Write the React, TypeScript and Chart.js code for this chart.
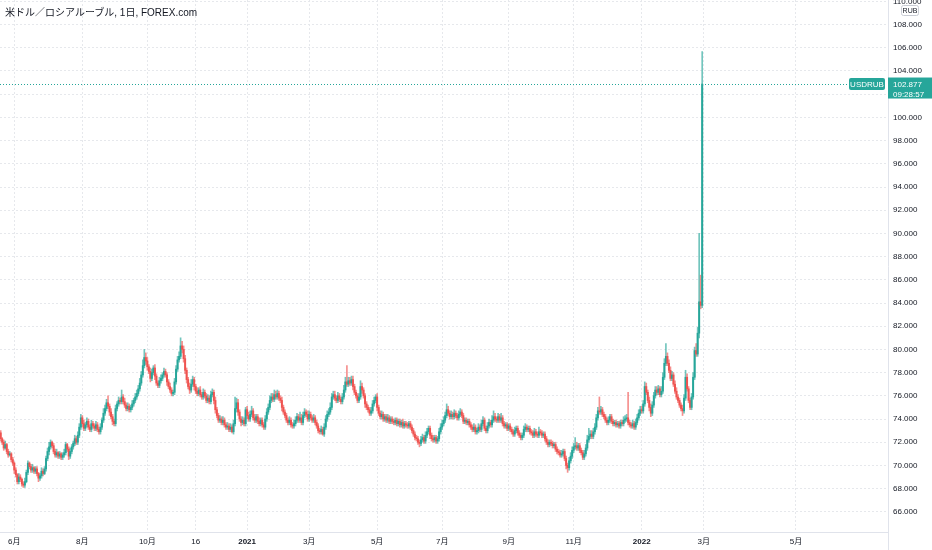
import React, { useEffect, useRef } from "react";
import { Chart, registerables } from "chart.js";

Chart.register(...registerables);

// ---------- data (daily USD/RUB candles, FOREX.com, from 2020-05-19 to 2022-02-28) ----------
const TITLE = "米ドル／ロシアルーブル, 1日, FOREX.com";
const SYMBOL = "USDRUB";
const CURRENCY = "RUB";
const COUNTDOWN = "09:28:57";

const FIRST_OPEN = 72.8;

// closes, one per trading day (open of a bar = previous close)
const closes = [
  /*   0 */ 72.3, 72.0, 71.5, 71.8, 71.2, 70.9, 71.0, 70.5, 70.2, 69.6,
  /*  10 */ 69.2, 68.6, 69.0, 68.8, 68.4, 68.3, 68.6, 69.4, 70.2, 69.9,
  /*  20 */ 69.6, 69.8, 69.5, 69.7, 69.3, 68.9, 69.1, 69.5, 69.3, 69.7,
  /*  30 */ 70.6, 71.2, 71.6, 72.0, 71.7, 71.2, 70.9, 71.1, 70.8, 71.0,
  /*  40 */ 70.7, 70.9, 71.1, 71.8, 71.4, 70.8, 71.2, 71.6, 71.9, 72.3,
  /*  50 */ 72.0, 72.6, 73.3, 74.1, 73.6, 73.2, 73.5, 73.8, 73.3, 73.1,
  /*  60 */ 73.6, 73.4, 73.2, 73.5, 73.1, 72.9, 73.3, 73.9, 74.5, 74.9,
  /*  70 */ 75.4, 75.1, 74.6, 74.2, 73.8, 73.6, 74.9, 75.3, 75.6, 75.5,
  /*  80 */ 75.9, 75.5, 75.2, 74.9, 75.1, 74.8, 75.0, 75.3, 75.6, 75.9,
  /*  90 */ 76.2, 76.6, 77.1, 77.8, 78.6, 79.3, 79.0, 78.5, 78.1, 77.5,
  /* 100 */ 78.0, 78.4, 77.7, 77.1, 76.9, 77.3, 77.5, 77.8, 78.1, 77.8,
  /* 110 */ 77.2, 76.8, 76.5, 76.2, 76.3, 77.2, 78.3, 79.1, 79.4, 80.3,
  /* 120 */ 80.0, 79.2, 78.2, 77.4, 76.8, 76.5, 77.0, 77.4, 76.8, 76.4,
  /* 130 */ 76.2, 76.5, 76.1, 75.9, 76.3, 76.0, 75.6, 75.8, 75.5, 76.1,
  /* 140 */ 76.3, 75.6, 74.8, 74.3, 73.9, 74.0, 73.7, 73.9, 73.5, 73.3,
  /* 150 */ 73.4, 73.1, 73.3, 72.9, 73.6, 74.9, 75.4, 74.6, 74.0, 73.7,
  /* 160 */ 73.9, 73.6, 74.8, 74.3, 74.0, 74.4, 74.7, 74.1, 73.9, 74.2,
  /* 170 */ 73.8, 73.6, 73.9, 73.5, 73.3, 74.0, 74.6, 75.0, 75.6, 75.9,
  /* 180 */ 75.7, 76.1, 75.9, 76.2, 75.8, 75.6, 75.0, 74.6, 74.3, 73.9,
  /* 190 */ 73.7, 73.9, 73.5, 73.4, 73.6, 73.9, 74.2, 73.9, 74.1, 73.7,
  /* 200 */ 74.3, 74.6, 74.4, 74.0, 74.4, 74.1, 73.9, 74.1, 73.7, 73.4,
  /* 210 */ 73.0, 72.9, 73.1, 72.7, 73.3, 74.0, 74.4, 74.6, 75.0, 75.9,
  /* 220 */ 76.1, 75.8, 75.6, 76.0, 75.7, 75.5, 75.9, 76.5, 77.2, 77.0,
  /* 230 */ 77.3, 77.1, 77.4, 76.8, 76.3, 76.0, 75.6, 75.9, 76.8, 76.5,
  /* 240 */ 76.0, 75.3, 75.0, 74.8, 74.5, 74.7, 75.3, 75.6, 75.9, 75.0,
  /* 250 */ 74.5, 74.2, 74.4, 74.0, 74.2, 73.9, 74.1, 73.8, 74.0, 73.8,
  /* 260 */ 73.7, 73.9, 73.6, 73.8, 73.5, 73.7, 73.4, 73.6, 73.5, 73.4,
  /* 270 */ 73.6, 73.3, 73.0, 72.7, 72.4, 72.3, 72.0, 71.9, 72.2, 72.4,
  /* 280 */ 72.1, 72.6, 72.9, 73.2, 72.6, 72.3, 72.2, 72.4, 72.1, 72.3,
  /* 290 */ 72.9, 73.3, 73.6, 73.9, 74.3, 74.8, 74.5, 74.2, 74.4, 74.2,
  /* 300 */ 74.5, 74.3, 74.1, 74.4, 74.6, 74.3, 73.8, 73.9, 73.7, 73.8,
  /* 310 */ 73.5, 73.3, 73.1, 73.3, 72.9, 73.0, 73.3, 73.1, 73.6, 73.9,
  /* 320 */ 73.2, 73.0, 73.4, 73.7, 73.5, 73.9, 74.2, 74.0, 73.9, 74.2,
  /* 330 */ 73.9, 74.1, 73.6, 73.4, 73.5, 73.2, 73.4, 73.1, 72.9, 72.7,
  /* 340 */ 73.0, 73.2, 72.8, 72.6, 72.4, 72.6, 73.1, 73.3, 73.1, 73.2,
  /* 350 */ 72.9, 72.8, 72.6, 72.9, 72.7, 72.6, 72.9, 72.8, 72.6, 72.7,
  /* 360 */ 72.3, 72.0, 71.8, 72.0, 71.9, 71.7, 71.8, 71.4, 71.2, 71.1,
  /* 370 */ 70.9, 71.0, 71.2, 70.6, 70.0, 69.8, 70.4, 70.8, 71.3, 71.6,
  /* 380 */ 71.7, 71.5, 71.7, 71.3, 71.1, 70.7, 71.0, 71.5, 72.2, 72.5,
  /* 390 */ 72.7, 72.5, 72.9, 73.3, 74.1, 74.7, 74.6, 74.8, 74.4, 74.2,
  /* 400 */ 73.9, 73.7, 73.9, 74.2, 73.8, 73.6, 73.7, 73.5, 73.6, 73.4,
  /* 410 */ 73.7, 73.6, 73.9, 74.0, 74.1, 73.7, 73.5, 73.4, 73.6, 73.3,
  /* 420 */ 73.7, 74.1, 74.5, 74.8, 74.7, 75.3, 76.8, 76.3, 75.6, 75.0,
  /* 430 */ 74.5, 75.2, 76.0, 76.5, 76.3, 76.6, 76.1, 76.4, 77.6, 78.8,
  /* 440 */ 79.4, 78.8, 78.2, 77.5, 77.8, 77.0, 76.4, 75.9, 75.6, 75.2,
  /* 450 */ 74.9, 74.7, 75.8, 77.6, 76.6, 75.6, 75.0, 75.9, 77.6, 79.9,
  /* 460 */ 79.6, 81.4, 84.1, 83.8, 102.877,
];

// upper wick above the body, in tenths of a rouble
const wickUp = [
  2,1,2,3,1,2,2,1,2,1, 2,1,3,2,1,2,3,2,2,1,
  2,3,1,2,2,1,2,3,2,2, 2,3,4,2,1,2,2,3,1,2,
  1,2,3,2,1,2,3,2,2,3, 2,3,3,3,2,3,2,3,2,2,
  3,2,2,3,2,2,3,2,4,3, 3,6,2,3,2,2,3,2,3,2,
  6,2,3,2,3,2,2,3,2,3, 3,3,4,3,5,7,4,3,2,3,
  3,2,3,2,2,3,3,2,3,2, 2,2,3,2,2,3,3,3,4,7,
  4,3,3,2,2,3,4,3,2,2, 3,2,3,2,3,2,2,3,2,3,
  3,2,3,2,2,3,2,3,2,2, 3,2,3,2,3,10,4,3,2,2,
  3,2,2,3,3,3,4,2,3,2, 2,3,2,2,2,3,3,3,4,3,
  3,4,3,3,2,2,3,2,2,2, 2,3,2,2,3,3,3,2,5,3,
  3,3,2,3,3,2,2,3,2,2, 2,2,3,2,3,3,3,3,4,3,
  3,3,2,3,2,2,3,4,4,14, 3,3,3,3,2,2,2,3,5,3,
  2,2,2,2,2,3,3,3,2,3, 2,2,3,2,2,2,3,2,2,2,
  2,2,2,2,2,2,3,2,2,2, 2,2,2,2,2,2,2,2,3,3,
  2,3,3,2,2,2,3,2,2,2, 3,3,3,3,3,5,3,2,3,2,
  3,2,2,3,3,2,2,2,2,2, 2,2,2,3,2,2,3,2,3,3,
  2,2,3,3,2,4,5,3,2,3, 2,4,2,2,2,2,2,2,2,2,
  3,2,2,2,2,2,3,3,2,2, 2,2,2,3,2,2,4,2,2,2,
  2,2,2,2,2,2,2,2,2,2, 2,3,2,2,2,2,3,3,3,3,
  7,3,2,2,2,2,3,3,4,7, 3,3,3,3,3,3,12,3,2,2,
  2,2,3,2,2,2,2,2,2,2, 2,2,3,3,3,22,2,2,3,2,
  3,3,3,3,3,3,4,3,2,3, 3,3,3,3,3,3,2,4,4,4,
  11,3,3,3,3,2,3,3,2,2, 2,3,3,6,3,2,2,3,4,3,
  6,5,59,23,28,
];

// lower wick below the body, in tenths of a rouble
const wickDn = [
  2,2,2,1,2,2,1,2,2,3, 2,2,2,2,2,2,2,1,2,2,
  2,2,2,2,2,3,2,2,2,1, 2,2,3,2,2,2,2,2,2,2,
  2,2,2,2,2,3,2,2,2,2, 2,2,2,2,3,2,2,2,2,2,
  2,2,2,2,2,2,2,2,2,2, 2,2,3,2,3,2,2,2,2,2,
  2,2,2,2,2,2,2,2,2,2, 2,2,2,2,2,2,3,3,2,3,
  2,2,3,2,2,2,2,2,2,2, 3,2,2,2,2,2,2,2,2,2,
  3,3,3,3,2,3,2,2,3,2, 2,2,2,2,2,2,2,2,2,2,
  2,3,3,2,2,2,2,2,2,2, 2,2,2,1,2,2,3,3,2,3,
  2,2,2,3,2,2,2,2,2,2, 2,2,2,2,2,2,2,2,2,2,
  2,2,2,2,2,2,3,2,2,2, 2,2,2,2,2,2,2,2,2,2,
  2,2,2,2,2,2,2,2,2,2, 2,2,2,1,2,2,2,2,2,2,
  2,2,2,2,2,2,2,2,2,2, 2,2,2,3,2,2,2,2,2,3,
  2,3,2,2,2,2,2,2,2,3, 2,2,2,2,2,2,2,2,2,2,
  2,2,2,2,2,2,2,2,2,2, 2,2,2,2,2,2,2,3,2,2,
  2,2,2,2,3,2,2,2,2,2, 2,2,2,2,2,2,2,2,2,2,
  2,2,2,2,2,2,2,2,2,2, 2,2,2,2,2,2,2,2,2,2,
  2,2,2,2,2,2,2,2,2,2, 2,2,2,2,2,2,2,2,2,2,
  2,2,2,2,2,2,2,2,2,2, 2,2,2,2,2,2,2,2,2,2,
  2,2,2,2,2,2,2,2,2,2, 2,2,2,2,3,4,2,2,2,2,
  2,2,2,2,2,2,2,2,2,2, 2,2,2,2,2,2,2,2,2,2,
  2,2,2,2,2,2,2,2,2,2, 2,2,2,2,2,2,2,2,2,2,
  2,2,2,2,2,2,2,2,2,3, 3,2,2,2,2,2,2,2,2,2,
  2,2,2,2,2,2,2,2,2,2, 2,4,2,2,2,2,2,2,2,2,
  2,2,4,3,2,
];

// time axis: bar index of each labelled date, and its label
const xTickIndex = [9, 54, 97, 129, 163, 204, 249, 292, 336, 379, 424, 465, 526];
const xTickLabels = ["6月", "8月", "10月", "16", "2021", "3月", "5月", "7月", "9月", "11月", "2022", "3月", "5月"];

// price axis ticks
const yTicks = [66, 68, 70, 72, 74, 76, 78, 80, 82, 84, 86, 88, 90, 92, 94, 96, 98, 100, 102, 104, 106, 108, 110];

// ---------- styling ----------
const UP = "#26a69a";
const DOWN = "#ef5350";
const UP_WICK = "rgba(38,166,154,0.65)";
const DOWN_WICK = "rgba(239,83,80,0.65)";
const TEXT = "#131722";
const GRID = "#e6e8ec";
const AXIS = "#e0e3eb";
const FONT = "'Liberation Sans', 'Noto Sans CJK JP', sans-serif";

const X_MIN = -0.456;
const X_MAX = 586.9;
const Y_MIN = 64.26;
const Y_MAX = 110.12;

export default function App() {
  const canvasRef = useRef<HTMLCanvasElement | null>(null);

  useEffect(() => {
    const canvas = canvasRef.current;
    if (!canvas) return;

    const n = closes.length;
    const opens = closes.map((c, i) => (i === 0 ? FIRST_OPEN : closes[i - 1]));
    const highs = closes.map((c, i) => Math.max(opens[i], c) + (wickUp[i] ?? 0) / 10);
    const lows = closes.map((c, i) => Math.min(opens[i], c) - (wickDn[i] ?? 0) / 10);
    const isUp = closes.map((c, i) => c >= opens[i]);
    const bodyColors = isUp.map((u) => (u ? UP : DOWN));
    const wickColors = isUp.map((u) => (u ? UP_WICK : DOWN_WICK));
    const idx = Array.from({ length: n }, (_, i) => i);

    const overlay = {
      id: "overlay",
      afterDraw(chart: any) {
        const { ctx, chartArea, scales } = chart;
        const y = scales.y;
        const last = closes[n - 1];
        const py = y.getPixelForValue(last);
        const ly = Math.round(py) + 0.5;
        ctx.save();
        // last price dotted line
        ctx.setLineDash([1, 2]);
        ctx.strokeStyle = UP;
        ctx.lineWidth = 1;
        ctx.beginPath();
        ctx.moveTo(chartArea.left, ly);
        ctx.lineTo(849, ly);
        ctx.stroke();
        ctx.setLineDash([]);

        // symbol label
        ctx.fillStyle = UP;
        ctx.beginPath();
        (ctx as any).roundRect(849, py - 6, 36, 12, 2);
        ctx.fill();
        ctx.fillStyle = "#ffffff";
        ctx.font = `8px ${FONT}`;
        ctx.textAlign = "center";
        ctx.textBaseline = "middle";
        ctx.fillText(SYMBOL, 867, py + 0.5);

        // price box on axis
        ctx.fillStyle = UP;
        ctx.fillRect(chartArea.right, py - 6.5, 44, 21);
        ctx.fillStyle = "#ffffff";
        ctx.textAlign = "left";
        ctx.fillText(last.toFixed(3), chartArea.right + 5, py + 0.5);
        ctx.fillText(COUNTDOWN, chartArea.right + 5, py + 10.5);

        // currency box
        ctx.strokeStyle = "#c9ccd4";
        ctx.lineWidth = 1;
        ctx.beginPath();
        (ctx as any).roundRect(901.5, 5.5, 17, 10, 2);
        ctx.stroke();
        ctx.fillStyle = TEXT;
        ctx.font = `7px ${FONT}`;
        ctx.textAlign = "center";
        ctx.fillText(CURRENCY, 910, 10.8);

        // axis separator continues below the time axis
        ctx.strokeStyle = AXIS;
        ctx.beginPath();
        ctx.moveTo(chartArea.right + 0.5, chartArea.bottom);
        ctx.lineTo(chartArea.right + 0.5, chart.height);
        ctx.stroke();
        ctx.restore();
      },
    };

    const chart = new Chart(canvas, {
      type: "bar",
      data: {
        datasets: [
          {
            label: "wick",
            data: idx.map((i) => ({ x: i, y: [lows[i], highs[i]] })) as any,
            backgroundColor: wickColors,
            barThickness: 1,
            grouped: false,
            order: 2,
          } as any,
          {
            label: "body",
            data: idx.map((i) => ({ x: i, y: [opens[i], closes[i]] })) as any,
            backgroundColor: bodyColors,
            barThickness: 1.3,
            minBarLength: 1,
            grouped: false,
            order: 1,
          } as any,
        ],
      },
      options: {
        animation: false,
        responsive: false,
        maintainAspectRatio: false,
        events: [],
        layout: { padding: 0 },
        plugins: {
          legend: { display: false },
          tooltip: { enabled: false },
          title: { display: false },
        },
        scales: {
          x: {
            type: "linear",
            position: "bottom",
            min: X_MIN,
            max: X_MAX,
            offset: false,
            grid: { color: GRID, lineWidth: 1, drawTicks: false, offset: false },
            border: { display: true, color: AXIS, dash: [2, 2] },
            ticks: {
              autoSkip: false,
              maxRotation: 0,
              minRotation: 0,
              padding: 5,
              color: TEXT,
              font: (ctx: any) => {
                const lbl = ctx.tick ? String(ctx.tick.label) : "";
                return { family: FONT, size: 8, weight: /^\d{4}$/.test(lbl) ? "bold" : "normal" };
              },
              callback: (v: any) => {
                const k = xTickIndex.indexOf(Number(v));
                return k >= 0 ? xTickLabels[k] : "";
              },
            },
            afterBuildTicks: (s: any) => {
              s.ticks = xTickIndex.map((v) => ({ value: v }));
            },
            afterFit: (s: any) => {
              s.height = 18;
              s.paddingLeft = 0;
              s.paddingRight = 0;
            },
          } as any,
          y: {
            type: "linear",
            position: "right",
            min: Y_MIN,
            max: Y_MAX,
            beginAtZero: false,
            grid: { color: GRID, lineWidth: 1, drawTicks: false },
            border: { display: true, color: AXIS, dash: [2, 2] },
            ticks: {
              autoSkip: false,
              padding: 5,
              color: TEXT,
              font: { family: FONT, size: 8 },
              callback: (v: any) => Number(v).toFixed(3),
            },
            afterBuildTicks: (s: any) => {
              s.ticks = yTicks.map((v) => ({ value: v }));
            },
            afterFit: (s: any) => {
              s.width = 44;
              s.paddingTop = 0;
              s.paddingBottom = 0;
            },
          } as any,
        },
      },
      plugins: [overlay],
    });

    return () => chart.destroy();
  }, []);

  return (
    <div style={{ position: "absolute", left: 0, top: 0, width: 932, height: 550, background: "#ffffff", overflow: "hidden" }}>
      <canvas ref={canvasRef} width={932} height={550} style={{ display: "block", width: 932, height: 550 }} />
      <div
        style={{
          position: "absolute",
          left: 5,
          top: 7,
          fontFamily: FONT,
          fontSize: 10,
          lineHeight: "12px",
          color: TEXT,
          whiteSpace: "nowrap",
          pointerEvents: "none",
        }}
      >
        {TITLE}
      </div>
    </div>
  );
}
